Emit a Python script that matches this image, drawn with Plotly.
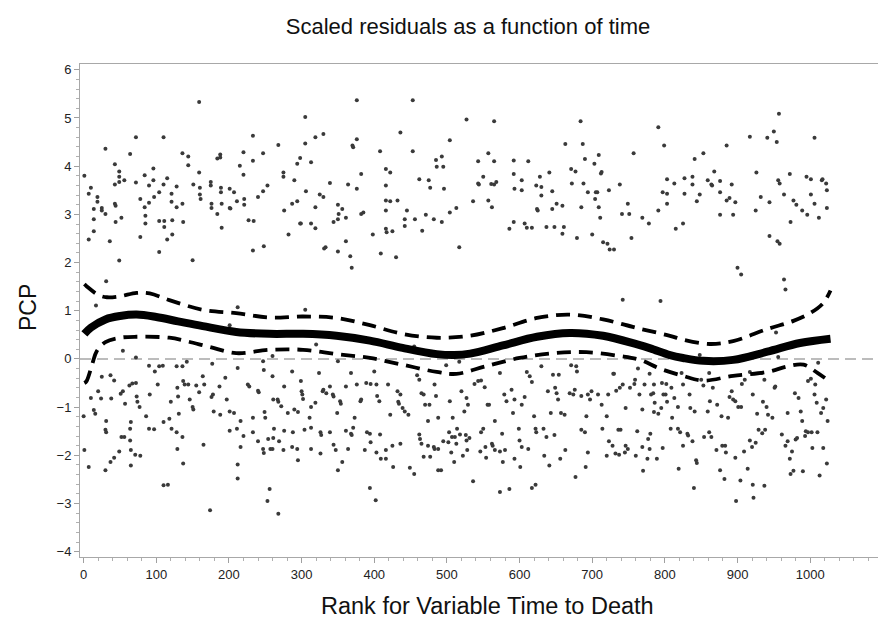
import plotly.graph_objects as go

# ---------------- data ----------------
upper_rank = [1, 7, 10, 7, 14, 14, 14, 19, 19, 25, 25, 30, 30, 36, 43, 43, 43, 44, 44, 49, 49, 49, 52, 56, 64, 72, 72, 78, 78,
              84, 84, 85, 85, 90, 90, 96, 96, 97, 104, 104, 110, 110, 111, 111, 115, 115, 121, 121, 122, 122, 128, 128,
              136, 136, 137, 144, 144, 151, 159, 159, 160, 160, 161, 175, 175, 176, 176, 184, 184, 188, 188, 189, 189,
              190, 190, 201, 201, 202, 207, 211, 215, 220, 220, 221, 221, 227, 233, 233, 234, 240, 247, 247, 248, 253,
              268, 275, 275, 276, 282, 287, 290, 294, 294, 298, 298, 305, 305, 306,
              376, 453, 527, 565, 684, 436, 319, 330, 376, 370, 371, 504, 408, 453, 663, 687, 313, 485, 493, 486, 495,
              543, 557, 565, 592, 612, 690, 416, 422, 382, 550, 592, 641, 671, 677, 628, 339, 364, 416, 462, 475, 477,
              496, 543, 544, 561, 565, 568, 603, 623, 630, 672, 688, 376, 593, 603, 645, 694, 705, 325, 330, 630, 704,
              416, 422, 432, 536, 557, 651, 659, 319, 350, 356, 351, 382, 385, 416, 445, 513, 504, 562, 624, 625, 645,
              685, 350, 361, 471, 442, 456, 482, 299, 313, 319, 344, 442, 493, 466, 416, 417, 425, 398, 361, 592, 607,
              610, 617, 586, 637, 648, 661, 659, 679, 700, 517, 333,
              957, 791, 917, 941, 950, 954, 1006, 799, 885, 757, 853, 841, 709, 703, 713, 712, 926, 972, 868, 995, 1001,
              1016, 1017, 1022, 803, 827, 838, 859, 876, 813, 838, 864, 865, 892, 956, 958, 738, 723, 1023, 707, 797,
              803, 827, 848, 876, 964, 1001, 932, 885, 889, 977, 844, 897, 944, 981, 1006, 749, 803, 709, 1023, 791,
              925, 989, 741, 751, 876, 894, 996, 711, 769, 1012, 778, 825, 973, 815, 754, 944, 715, 721, 955, 958]
upper_pcp = [3.80, 3.43, 3.55, 2.48, 3.11, 2.90, 2.65, 3.36, 3.26, 3.13, 3.08, 4.36, 3.01, 2.44, 4.04, 3.62, 3.22, 3.18, 2.84,
             3.89, 3.78, 3.67, 2.93, 3.71, 4.25, 4.60, 3.66, 3.32, 2.53, 3.81, 3.15, 2.97, 2.81, 3.60, 3.24, 3.95, 3.71,
             3.36, 3.46, 2.86, 4.60, 3.62, 2.86, 2.74, 3.75, 2.48, 3.43, 3.26, 2.88, 2.58, 3.58, 3.15, 4.27, 3.22, 2.84,
             4.20, 4.02, 3.62, 5.33, 3.87, 3.55, 3.41, 3.32, 3.67, 3.60, 3.22, 3.13, 3.01, 4.16, 4.24, 4.18, 3.55, 3.46,
             3.22, 2.72, 3.53, 3.13, 3.12, 3.46, 3.27, 4.01, 4.29, 3.82, 3.32, 3.20, 2.88, 4.63, 4.11, 2.86, 3.36, 4.27,
             3.48, 2.34, 3.60, 4.44, 3.87, 3.78, 3.08, 2.58, 3.22, 3.71, 3.27, 4.05, 4.17, 2.81, 5.02, 4.47, 3.48,
             5.37, 5.37, 4.97, 4.93, 4.93, 4.70, 4.60, 4.67, 4.56, 4.43, 4.39, 4.54, 4.31, 4.31, 4.46, 4.46, 4.08, 4.13,
             4.20, 3.99, 3.99, 4.10, 4.27, 4.10, 4.12, 4.10, 4.15, 3.94, 3.87, 3.84, 3.78, 3.84, 3.87, 3.94, 3.89, 3.78,
             3.65, 3.62, 3.60, 3.73, 3.71, 3.55, 3.53, 3.64, 3.62, 3.63, 3.62, 3.67, 3.71, 3.60, 3.57, 3.64, 3.64, 3.53,
             3.53, 3.50, 3.48, 3.46, 3.46, 3.41, 3.36, 3.39, 3.32, 3.29, 3.27, 3.29, 3.27, 3.29, 3.22, 3.18, 3.15, 3.20,
             3.11, 3.01, 3.01, 3.04, 3.08, 3.08, 3.13, 3.04, 3.15, 3.11, 3.08, 3.11, 3.15, 2.90, 2.93, 2.99, 2.90, 2.90,
             2.90, 2.81, 2.81, 2.71, 2.84, 2.76, 2.84, 2.66, 2.70, 2.63, 2.65, 2.58, 2.44, 2.84, 2.81, 2.72, 2.72, 2.70,
             2.74, 2.74, 2.74, 2.60, 2.51, 2.58, 2.32, 2.32,
             5.09, 4.81, 4.61, 4.59, 4.72, 4.50, 4.59, 4.43, 4.43, 4.27, 4.27, 4.15, 4.23, 4.05, 3.88, 3.85, 3.87, 3.84,
             3.89, 3.78, 3.73, 3.71, 3.73, 3.64, 3.73, 3.75, 3.78, 3.71, 3.69, 3.64, 3.62, 3.62, 3.60, 3.62, 3.71, 3.64,
             3.62, 3.50, 3.50, 3.46, 3.46, 3.43, 3.43, 3.41, 3.46, 3.41, 3.41, 3.36, 3.29, 3.34, 3.29, 3.27, 3.25, 3.25,
             3.20, 3.22, 3.22, 3.22, 3.15, 3.13, 3.08, 3.08, 3.08, 3.01, 3.01, 2.99, 2.99, 2.99, 2.93, 2.93, 2.93, 2.81,
             2.81, 2.84, 2.70, 2.51, 2.55, 2.42, 2.39, 2.44, 2.39]

middle_rank = [49, 31, 104, 150, 233, 331, 350, 367, 369, 17, 212, 201, 305, 320, 54, 72, 409, 430, 724, 730, 742, 900,
               905, 964, 966, 794, 953, 848, 956, 455, 260]
middle_pcp = [2.04, 1.61, 2.22, 2.05, 2.25, 2.29, 2.23, 2.13, 1.89, 1.11, 1.07, 0.70, 1.02, 0.30, 0.17, 0.03, 2.19, 2.11,
              2.27, 2.27, 1.23, 1.89, 1.75, 1.65, 1.44, 1.20, 0.55, 0.08, 0.04, 0.26, 0.06]

lower_rank = [0, 10, 14, 16, 20, 24, 25, 31, 37, 38, 42, 51, 54, 57, 63, 65, 67, 72, 73, 74, 77, 86, 90, 91, 98, 102, 104,
              109, 110, 118, 120, 128, 129, 130, 131, 136, 137, 139, 142, 144, 146, 150, 151, 155, 159, 164, 166, 177,
              178, 176, 179, 187, 188, 195, 197, 201, 207, 212, 216, 226, 228, 233, 240, 241, 247, 248, 249, 250, 260,
              261, 267, 268, 272, 276, 281, 287, 290, 295, 299, 300, 301, 302, 311, 313, 319, 324, 329, 330, 334, 339,
              343, 344, 349, 350, 353, 354, 361, 368, 373, 376, 381, 382, 389,
              395, 403, 400, 404, 407, 419, 422, 432, 433, 434, 436, 439, 442, 447, 459, 462, 465, 468, 470, 474, 476,
              483, 485, 488, 499, 504, 508, 517, 520, 524, 527, 529, 538, 543, 547, 552, 556, 558, 566, 573, 579, 582,
              589, 591, 593, 603, 607, 610, 614, 617, 620, 630, 639, 643, 646, 649, 651, 653, 654, 657, 662, 669, 671,
              674, 676, 678, 679, 685, 692, 694, 697, 699, 708, 713, 720, 722, 729, 730, 733, 738, 742, 746, 752, 758,
              759, 763, 765, 769, 772, 779, 781, 785, 786, 791, 795, 801, 802,
              784, 796, 798, 785, 803, 809, 810, 813, 818, 823, 825, 834, 835, 841, 850, 853, 859, 861, 862, 866, 872,
              878, 887, 889, 892, 894, 897, 901, 905, 906, 910, 917, 921, 927, 933, 935, 937, 940, 942, 948, 951, 952,
              969, 979, 984, 987, 989, 997, 1001, 1006, 1009, 1011, 1015, 1018, 1022, 1024, 1007,
              1, 7, 30, 31, 30, 37, 42, 49, 52, 56, 64, 65, 65, 64, 71, 78, 90, 97, 110, 116, 121, 128, 129, 136, 137,
              165, 174, 201, 211, 212, 212, 216, 220, 233, 240, 247, 248, 253, 254, 256, 257, 260, 261, 262, 268, 269,
              275, 276, 287, 288, 294, 295, 304,
              313, 326, 327, 339, 313, 326, 344, 347, 356, 350, 364, 361, 368, 369, 371, 387, 390, 394, 395, 394, 402,
              403, 408, 409, 416, 416, 425, 426, 436, 449, 455, 462, 463, 465, 468, 477, 474, 482, 483, 488, 488, 492,
              495, 502, 503, 506, 507, 511, 518, 513, 510, 514, 522, 526, 527, 531, 528, 536, 546, 547, 550, 553, 554,
              562, 563, 566, 573, 576, 577, 580, 573, 586, 593, 599, 600, 601, 603, 612, 617, 622, 622, 623, 633, 637,
              634, 641, 648, 656, 663, 677, 685, 690, 694, 691,
              714, 736, 739, 723, 728, 720, 732, 737, 745, 746, 749, 760, 762, 769, 770, 776, 777, 780, 779, 789, 797,
              808, 818, 819, 821, 825, 831, 832, 838, 840, 843, 844, 854, 861, 864, 871, 876, 879, 883, 882, 884, 897,
              898, 904, 909, 914, 917, 920, 925, 921, 922, 929, 934, 938, 937, 961, 966, 969, 972, 975, 973, 977, 980,
              982, 990, 993, 994, 997, 1002, 1010, 1003, 1013, 1018, 1023]
lower_pcp = [-1.19, -0.81, -1.06, -1.14, -0.67, -0.82, -0.37, -1.29, -0.34, -0.82, -0.45, -0.72, -0.67, -0.93, -0.55,
             -1.31, -0.51, -0.50, -0.78, -0.89, -1.00, -1.19, -0.14, -0.74, -0.26, -0.53, -0.15, -0.14, -1.31, -1.24,
             -0.89, -0.15, -0.60, -0.78, -1.14, -0.15, -0.46, -0.53, -0.06, -0.53, -0.84, -1.00, -1.05, -0.55, -0.69,
             -0.36, -0.53, -0.10, -0.74, -0.79, -1.09, -0.57, -1.16, -0.39, -0.84, -1.09, -1.12, -0.19, -1.29, -0.53,
             -0.57, -1.22, -0.66, -0.69, -0.05, -0.23, -1.10, -1.22, -0.36, -0.84, -0.84, -0.89, -0.98, -0.57, -1.12,
             -0.26, -1.05, -1.10, -0.46, -0.67, -0.74, -0.83, -1.22, -1.00, -0.91, -0.29, -0.67, -0.64, -0.71, -0.57,
             -0.74, -0.78, -1.12, -0.05, -0.88, -0.93, -0.57, -0.29, -1.22, -0.53, -0.88, -0.84, -0.50,
             -0.52, -0.53, -0.26, -0.77, -0.88, -0.53, -1.16, -0.67, -0.89, -0.93, -0.74, -1.02, -1.09, -1.16, -0.34,
             -0.43, -0.71, -0.74, -0.95, -1.29, -0.95, -0.53, -0.77, -1.22, -0.13, -0.88, -1.22, -0.06, -0.67, -1.09,
             -0.81, -0.95, -0.52, -0.46, -0.45, -0.59, -0.95, -0.95, -1.29, -0.29, -0.74, -0.88, -0.64, -1.12, -0.84,
             -0.95, -0.79, -0.27, -0.36, -0.48, -1.19, -0.15, -0.67, -1.12, -0.33, -0.60, -0.71, -0.84, -0.33, -1.12,
             -1.16, -0.71, -0.13, -0.74, -0.64, -0.15, -0.26, -0.77, -1.19, -0.74, -0.84, -0.67, -0.74, -0.95, -1.19,
             -0.74, -0.31, -0.31, -0.66, -0.60, -0.53, -1.02, -0.60, -0.52, -0.43, -0.20, -0.74, -1.05, -0.53, -0.31,
             -0.74, -0.53, -0.91, -1.14, -1.02, -0.74, -0.52,
             -0.71, -0.50, -0.74, -1.10, -0.89, -0.60, -1.22, -0.81, -1.00, -0.29, -0.53, -0.74, -1.02, -1.09, -0.43,
             -0.55, -1.09, -0.29, -0.88, -0.60, -0.95, -1.19, -1.22, -0.79, -0.67, -0.84, -0.88, -1.00, -1.00, -0.52,
             -0.43, -0.27, -0.74, -1.14, -0.29, -0.89, -0.43, -1.00, -1.16, -1.22, -0.60, -0.57, -1.12, -0.71, -0.81,
             -1.09, -1.29, -0.46, -0.41, -0.74, -0.91, -0.08, -1.12, -1.02, -0.84, -1.29, -0.53,
             -1.89, -2.24, -1.47, -1.52, -2.31, -2.14, -2.05, -1.92, -1.62, -1.62, -1.69, -1.89, -2.21, -1.45, -1.99,
             -2.01, -1.45, -1.46, -2.62, -2.61, -1.45, -1.52, -1.87, -1.62, -2.17, -1.78, -3.14, -1.49, -1.45, -2.19,
             -2.48, -1.83, -1.60, -1.52, -1.71, -1.87, -1.95, -2.95, -1.66, -2.70, -1.87, -1.87, -1.64, -1.45, -3.21,
             -1.71, -1.89, -1.49, -1.83, -1.52, -1.87, -2.10, -1.47,
             -1.43, -1.52, -1.58, -1.52, -1.87, -1.96, -1.78, -1.89, -2.14, -2.31, -1.87, -1.49, -1.55, -1.58, -1.43,
             -1.89, -1.52, -1.55, -1.73, -2.68, -2.93, -1.94, -1.57, -2.07, -2.07, -1.89, -1.80, -2.24, -1.76, -2.26,
             -2.39, -1.57, -1.66, -1.76, -2.03, -2.03, -1.80, -1.83, -1.87, -1.87, -2.31, -2.31, -1.71, -1.73, -1.52,
             -1.94, -1.62, -1.62, -1.57, -1.76, -2.14, -1.45, -2.01, -1.58, -1.69, -1.64, -1.89, -2.54, -1.92, -1.52,
             -1.45, -1.83, -2.05, -1.76, -1.80, -1.89, -1.92, -1.55, -2.14, -1.89, -2.76, -2.70, -2.07, -1.45, -1.69,
             -2.24, -1.83, -1.87, -2.68, -2.61, -1.45, -1.52, -1.45, -1.62, -2.01, -2.21, -1.58, -2.07, -1.89, -2.45,
             -1.47, -1.52, -1.94, -2.24,
             -1.45, -1.47, -1.47, -1.71, -1.80, -2.01, -1.96, -1.99, -1.94, -1.80, -1.87, -2.01, -1.50, -1.83, -2.32,
             -2.07, -1.66, -1.55, -1.87, -2.07, -1.85, -1.45, -1.45, -2.28, -1.52, -1.80, -1.55, -1.59, -1.71, -2.68,
             -2.10, -2.16, -1.62, -1.52, -1.62, -1.89, -2.31, -1.80, -1.80, -2.49, -1.94, -2.05, -2.95, -2.52, -1.92,
             -2.28, -1.69, -1.83, -1.74, -2.61, -2.88, -1.47, -1.54, -1.47, -2.63, -1.57, -1.80, -1.71, -2.07, -1.92,
             -2.39, -2.32, -1.67, -1.64, -2.33, -1.60, -1.50, -1.52, -1.52, -1.52, -1.85, -2.42, -1.85, -2.17]

fit_rank = [1, 10, 30, 50, 73, 100, 130, 164, 210, 256, 302, 348, 394, 439, 486, 510, 532, 577, 624, 669, 715, 762,
            780, 807, 825, 853, 894, 941, 986, 1028]
fit_pcp = [0.52, 0.65, 0.82, 0.89, 0.92, 0.87, 0.78, 0.68, 0.56, 0.52, 0.52, 0.48, 0.38, 0.23, 0.10, 0.08, 0.11, 0.28,
           0.46, 0.54, 0.48, 0.30, 0.22, 0.08, 0.02, -0.04, -0.02, 0.15, 0.33, 0.42]

upper_cl_rank = [1, 4, 20, 32, 50, 73, 91, 118, 164, 210, 256, 302, 348, 394, 439, 486, 532, 577, 624, 669, 715, 762,
                 807, 825, 862, 894, 941, 977, 1000, 1018, 1028]
upper_cl_pcp = [1.55, 1.51, 1.33, 1.28, 1.30, 1.37, 1.36, 1.22, 1.02, 0.95, 0.86, 0.88, 0.85, 0.70, 0.52, 0.44, 0.48,
                0.64, 0.85, 0.92, 0.82, 0.64, 0.48, 0.40, 0.31, 0.37, 0.62, 0.79, 0.95, 1.16, 1.42]

lower_cl_rank = [1, 4, 12, 18, 30, 50, 73, 118, 141, 173, 210, 256, 302, 348, 394, 439, 486, 513, 554, 600, 646, 692,
                 738, 766, 793, 825, 853, 894, 941, 970, 991, 1010, 1028]
lower_cl_pcp = [-0.50, -0.46, -0.10, 0.16, 0.35, 0.44, 0.46, 0.44, 0.37, 0.25, 0.12, 0.19, 0.19, 0.10, 0.02, -0.12,
                -0.27, -0.31, -0.15, 0.02, 0.12, 0.14, 0.06, -0.02, -0.20, -0.35, -0.45, -0.35, -0.27, -0.15, -0.12,
                -0.29, -0.48]

x_ticks = [0, 100, 200, 300, 400, 500, 600, 700, 800, 900, 1000, 1100]
y_ticks = [-4, -3, -2, -1, 0, 1, 2, 3, 4, 5, 6]

# ---------------- figure ----------------
FONT = "Liberation Sans, Arial, sans-serif"
W, H = 886, 618
ML, MR, MT, MB = 72, 9, 56, 69
PW, PH = W - ML - MR, H - MT - MB

all_rank = upper_rank + middle_rank + lower_rank
all_pcp = upper_pcp + middle_pcp + lower_pcp

fig = go.Figure()
fig.add_trace(go.Scatter(x=all_rank, y=all_pcp, mode="markers",
                         marker=dict(size=4, color="#3a3a3a", line=dict(width=0)),
                         showlegend=False, hoverinfo="skip"))
fig.add_trace(go.Scatter(x=upper_cl_rank, y=upper_cl_pcp, mode="lines",
                         line=dict(color="black", width=3.8, dash="14px,8px", shape="spline", smoothing=1.0),
                         showlegend=False))
fig.add_trace(go.Scatter(x=lower_cl_rank, y=lower_cl_pcp, mode="lines",
                         line=dict(color="black", width=3.8, dash="14px,8px", shape="spline", smoothing=1.0),
                         showlegend=False))
fig.add_trace(go.Scatter(x=fit_rank, y=fit_pcp, mode="lines",
                         line=dict(color="black", width=8, shape="spline", smoothing=1.0),
                         showlegend=False))

fig.add_shape(type="line", xref="paper", yref="y", x0=0, x1=1, y0=0, y1=0,
              line=dict(color="#bcbcbc", width=2, dash="11px,6px"), layer="below")

axis_common = dict(showline=True, linecolor="#a8a8a8", linewidth=1, mirror=True, showgrid=False, zeroline=False,
                   ticks="outside", ticklen=5, tickcolor="#a0a0a0", tickwidth=1,
                   tickfont=dict(family=FONT, size=13, color="#222"))

fig.update_layout(
    width=W, height=H,
    margin=dict(l=ML, r=MR, t=MT, b=MB),
    paper_bgcolor="white", plot_bgcolor="white",
    title=dict(text="Scaled residuals as a function of time", x=460 / W, xanchor="center",
               y=1 - 18 / H, yanchor="middle", font=dict(family=FONT, size=22, color="#111")),
    xaxis=dict(range=[-5, 1103], tickvals=x_ticks, ticktext=[str(v) for v in x_ticks],
               minor=dict(dtick=20, ticks="outside", ticklen=3, tickcolor="#b0b0b0"),
               **axis_common),
    yaxis=dict(range=[-4.11, 6.12], tickvals=y_ticks,
               ticktext=[("\u2212" + str(-v)) if v < 0 else str(v) for v in y_ticks],
               minor=dict(dtick=0.2, ticks="outside", ticklen=3, tickcolor="#b0b0b0"),
               **axis_common),
    annotations=[
        dict(text="Rank for Variable Time to Death", xref="paper", yref="paper",
             x=(479 - ML) / PW, y=-(598 - (MT + PH)) / PH, xanchor="center", yanchor="middle",
             showarrow=False, font=dict(family=FONT, size=23.5, color="#111")),
        dict(text="PCP", xref="paper", yref="paper", textangle=-90,
             x=(20 - ML) / PW, y=(MT + PH - 300) / PH, xanchor="center", yanchor="middle",
             showarrow=False, font=dict(family=FONT, size=23, color="#111")),
    ],
)

fig.write_html("out.html")
